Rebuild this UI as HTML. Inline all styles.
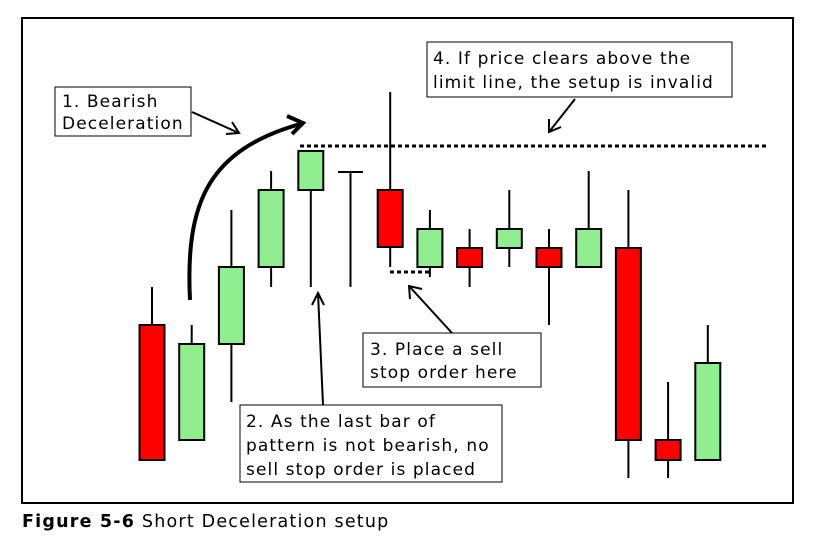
<!DOCTYPE html>
<html><head><meta charset="utf-8"><style>
body{margin:0;background:#fff;width:816px;height:533px;overflow:hidden;font-family:"DejaVu Sans","Liberation Sans",sans-serif}
</style></head><body>
<svg width="816" height="533">
<rect x="22" y="18" width="771" height="485" fill="#fff" stroke="#000" stroke-width="2"/>
<g id="candles"></g>
<line x1="300" y1="146" x2="768" y2="146" stroke="#000" stroke-width="3" stroke-dasharray="4,3"/>
<line x1="390" y1="272" x2="430" y2="272" stroke="#000" stroke-width="3" stroke-dasharray="4,3"/>
<path d="M190,300 C185,200 210,150 300,124" fill="none" stroke="#000" stroke-width="4"/>
<path d="M287,116 L303,123 L292,134" fill="none" stroke="#000" stroke-width="4"/>
<g stroke="#000" stroke-width="2" fill="none">
<path d="M192,112 L239,133 M226,134 L239,133 L232,122"/>
<path d="M575,99 L549,132 M549,119 L549,132 L561,127"/>
<path d="M452,333 L409,286 M410,299 L409,286 L422,289"/>
<path d="M323,405 L318,293 M312,305 L318,293 L324,305"/>
</g>
<g font-size="17" letter-spacing="1.1" fill="#000">
<rect x="55" y="87" width="136" height="49" fill="#fff" stroke="#000"/>
<text x="62" y="107">1. Bearish<tspan x="62" y="129">Deceleration</tspan></text>
<rect x="427" y="42" width="305" height="55" fill="#fff" stroke="#000"/>
<text x="433" y="64">4. If price clears above the<tspan x="433" y="88">limit line, the setup is invalid</tspan></text>
<rect x="363" y="333" width="178" height="54" fill="#fff" stroke="#000"/>
<text x="370" y="355">3. Place a sell<tspan x="370" y="378">stop order here</tspan></text>
<rect x="240" y="405" width="262" height="77" fill="#fff" stroke="#000"/>
<text x="246" y="427">2. As the last bar of<tspan x="246" y="451">pattern is not bearish, no</tspan><tspan x="246" y="475">sell stop order is placed</tspan></text>
</g>
<text x="22" y="527" font-size="17.5" letter-spacing="1.2"><tspan font-weight="bold">Figure 5-6</tspan>  Short Deceleration setup</text>
</svg>
<script>
const opens=[175,60,156,233,310,328,310,233,252,252,252,233,252,60,40];
const closes=[40,156,233,310,349,328,253,271,233,271,233,271,60,40,137];
const highs=[213,175,290,329,349,328,408,290,271,310,271,329,310,118,175];
const lows=[40,60,98,213,213,213,233,223,213,233,175,233,22,22,40];
const y=v=>500-v;
const x0=152,step=39.7,w=25;
const g=document.getElementById('candles');
const ns='http://www.w3.org/2000/svg';
for(let i=0;i<opens.length;i++){
 const cx=x0+i*step;
 const l=document.createElementNS(ns,'line');
 l.setAttribute('x1',cx);l.setAttribute('x2',cx);
 l.setAttribute('y1',y(highs[i]));l.setAttribute('y2',y(lows[i]));
 l.setAttribute('stroke','#000');l.setAttribute('stroke-width','2');
 
 
 g.appendChild(l);
 const top=Math.max(opens[i],closes[i]),bot=Math.min(opens[i],closes[i]);
 if(top===bot){
  const d=document.createElementNS(ns,'line');
  d.setAttribute('x1',cx-w/2);d.setAttribute('x2',cx+w/2);
  d.setAttribute('y1',y(top));d.setAttribute('y2',y(top));
  d.setAttribute('stroke','#000');d.setAttribute('stroke-width','2');
  
  
  g.appendChild(d);
 } else {
  const r=document.createElementNS(ns,'rect');
  r.setAttribute('x',cx-w/2);r.setAttribute('width',w);
  r.setAttribute('y',y(top));r.setAttribute('height',top-bot);
  r.setAttribute('fill',closes[i]>opens[i]?'#90ee90':'#ff0000');
  r.setAttribute('stroke','#000');r.setAttribute('stroke-width','2');
  
  
  g.appendChild(r);
 }
}
</script>
</body></html>
